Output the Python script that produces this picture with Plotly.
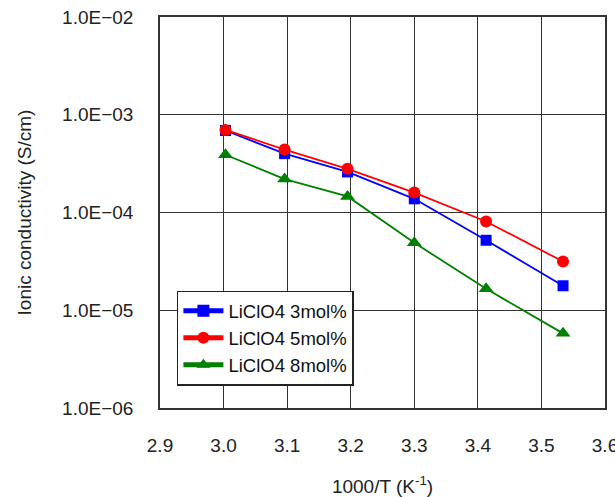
import plotly.graph_objects as go

inv_T = [3.003, 3.096, 3.195, 3.300, 3.413, 3.534]
sigma_3 = [6.9e-4, 4.0e-4, 2.6e-4, 1.38e-4, 5.2e-5, 1.78e-5]
sigma_5 = [7.0e-4, 4.4e-4, 2.8e-4, 1.6e-4, 8.1e-5, 3.15e-5]
sigma_8 = [3.9e-4, 2.2e-4, 1.46e-4, 4.9e-5, 1.66e-5, 5.8e-6]

series_names = ["LiClO4 3mol%", "LiClO4 5mol%", "LiClO4 8mol%"]
y_tickvals = [1e-6, 1e-5, 1e-4, 1e-3, 1e-2]
y_ticktext = ["1.0E\u221206", "1.0E\u221205", "1.0E\u221204", "1.0E\u221203", "1.0E\u221202"]
x_tickvals = [2.9, 3.0, 3.1, 3.2, 3.3, 3.4, 3.5, 3.6]

font_family = "Liberation Sans, Arial, sans-serif"

fig = go.Figure()
styles = [
    ("#0000ff", "square", 11),
    ("#ff0000", "circle", 12),
    ("#008000", "triangle-up", 13),
]
for name, ys, (col, sym, sz) in zip(series_names, [sigma_3, sigma_5, sigma_8], styles):
    fig.add_trace(go.Scatter(
        x=inv_T, y=ys, name=name, mode="lines+markers",
        line=dict(color=col, width=1.8),
        marker=dict(symbol=sym, size=sz, color=col),
    ))

fig.update_layout(
    width=615, height=497,
    margin=dict(l=160, r=10, t=17, b=89),
    paper_bgcolor="white", plot_bgcolor="white",
    font=dict(family=font_family, size=19, color="#222"),
    showlegend=True,
    legend=dict(
        x=0.038, y=0.30, xanchor="left", yanchor="top",
        bgcolor="white", bordercolor="#222", borderwidth=1.5,
        font=dict(size=18.5, color="#111"),
        tracegroupgap=0, itemsizing="constant", itemwidth=40,
    ),
    xaxis=dict(
        range=[2.9, 3.6], tickvals=x_tickvals, tickformat=".1f",
        showgrid=True, gridcolor="#333", gridwidth=1.3,
        showline=True, linecolor="#333", linewidth=1.5, mirror=True,
        ticks="", ticklen=0, tickfont=dict(size=19),
        ticklabelstandoff=19, ticklabeloverflow="allow",
        title=dict(text="1000/T (K<sup>-1</sup>)", font=dict(size=19), standoff=28),
        zeroline=False, automargin=False,
    ),
    yaxis=dict(
        type="log", range=[-6, -2],
        tickvals=y_tickvals, ticktext=y_ticktext,
        showgrid=True, gridcolor="#333", gridwidth=1.3,
        showline=True, linecolor="#333", linewidth=1.5, mirror=True,
        ticks="", ticklen=0, tickfont=dict(size=19),
        ticklabelstandoff=21, ticklabeloverflow="allow",
        title=dict(text="Ionic conductivity (S/cm)", font=dict(size=19), standoff=25),
        zeroline=False, automargin=False,
    ),
)

fig.write_html("out.html")
